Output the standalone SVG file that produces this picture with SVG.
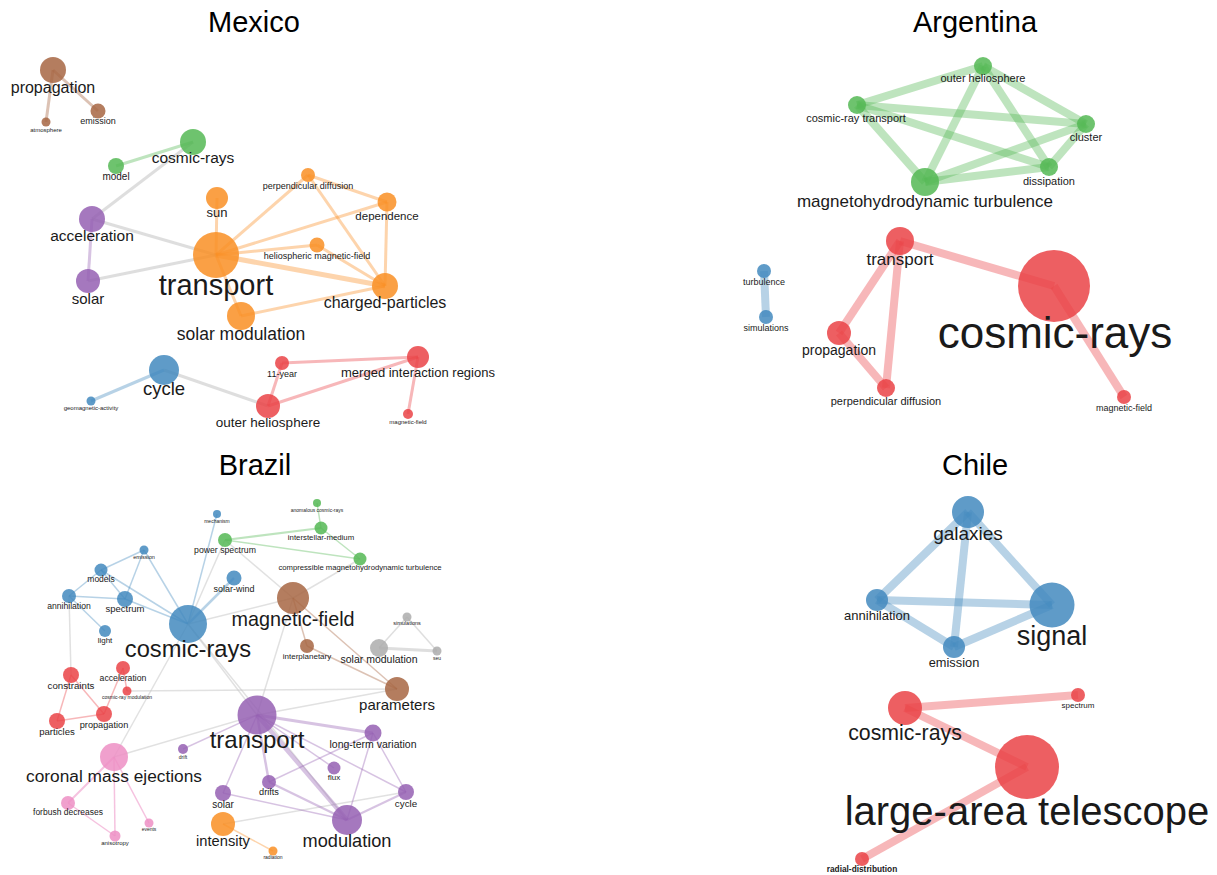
<svg xmlns="http://www.w3.org/2000/svg" width="1217" height="875" viewBox="0 0 1217 875">
<style>
text{font-family:"Liberation Sans",Arial,sans-serif;fill:#1a1a1a;text-anchor:middle}
.title{font-size:29px;fill:#000}
circle{fill-opacity:0.85}
.n-red{fill:#ea4346}.n-orange{fill:#f98f25}.n-blue{fill:#4389be}.n-green{fill:#55b955}
.n-purple{fill:#9560b3}.n-brown{fill:#a76643}.n-pink{fill:#ed8fc4}.n-gray{fill:#adadad}
line{stroke-linecap:butt}
.e-red{stroke:#ea4346;stroke-opacity:0.38}.e-orange{stroke:#f98f25;stroke-opacity:0.38}
.e-blue{stroke:#4389be;stroke-opacity:0.38}.e-green{stroke:#55b955;stroke-opacity:0.38}
.e-purple{stroke:#9560b3;stroke-opacity:0.38}.e-brown{stroke:#a76643;stroke-opacity:0.4}
.e-pink{stroke:#ed8fc4;stroke-opacity:0.55}.e-gray{stroke:#bdbdbd;stroke-opacity:0.5}
.e-lgray{stroke:#c8c8c8;stroke-opacity:0.55}
</style>

<g id="titles">
<text class="title" x="254" y="32">Mexico</text>
<text class="title" x="975" y="32">Argentina</text>
<text class="title" x="255" y="475">Brazil</text>
<text class="title" x="975" y="475">Chile</text>
</g>

<g id="connectors">
<!-- Mexico -->
<g stroke-width="3">
<line class="e-brown" x1="53" y1="70" x2="46" y2="122"/>
<line class="e-brown" x1="53" y1="70" x2="98" y2="111"/>
<line class="e-green" x1="116" y1="166" x2="193" y2="142"/>
<line class="e-gray" x1="193" y1="142" x2="92" y2="219"/>
<line class="e-purple" x1="92" y1="219" x2="88" y2="281"/>
<line class="e-gray" x1="92" y1="219" x2="216" y2="255"/>
<line class="e-gray" x1="88" y1="281" x2="216" y2="255"/>
<line class="e-orange" x1="216" y1="255" x2="217" y2="198"/>
<line class="e-orange" x1="216" y1="255" x2="308" y2="175"/>
<line class="e-orange" x1="216" y1="255" x2="387" y2="202"/>
<line class="e-orange" x1="216" y1="255" x2="317" y2="245"/>
<line class="e-orange" x1="216" y1="255" x2="385" y2="286" stroke-width="5"/>
<line class="e-orange" x1="216" y1="255" x2="241" y2="316"/>
<line class="e-orange" x1="241" y1="316" x2="385" y2="286"/>
<line class="e-orange" x1="308" y1="175" x2="387" y2="202"/>
<line class="e-orange" x1="308" y1="175" x2="385" y2="286"/>
<line class="e-orange" x1="387" y1="202" x2="385" y2="286"/>
<line class="e-orange" x1="317" y1="245" x2="385" y2="286"/>
<line class="e-blue" x1="164" y1="370" x2="91" y2="401"/>
<line class="e-gray" x1="164" y1="370" x2="268" y2="406"/>
<line class="e-red" x1="282" y1="363" x2="268" y2="406"/>
<line class="e-red" x1="282" y1="363" x2="418" y2="357"/>
<line class="e-red" x1="268" y1="406" x2="418" y2="357"/>
<line class="e-red" x1="418" y1="357" x2="408" y2="414"/>
</g>
<!-- Argentina -->
<g stroke-width="8">
<line class="e-green" x1="983" y1="66" x2="857" y2="105"/>
<line class="e-green" x1="983" y1="66" x2="1086" y2="124"/>
<line class="e-green" x1="983" y1="66" x2="1049" y2="167"/>
<line class="e-green" x1="983" y1="66" x2="925" y2="182"/>
<line class="e-green" x1="857" y1="105" x2="1086" y2="124"/>
<line class="e-green" x1="857" y1="105" x2="1049" y2="167"/>
<line class="e-green" x1="857" y1="105" x2="925" y2="182"/>
<line class="e-green" x1="1086" y1="124" x2="1049" y2="167"/>
<line class="e-green" x1="1086" y1="124" x2="925" y2="182"/>
<line class="e-green" x1="1049" y1="167" x2="925" y2="182"/>
<line class="e-blue" x1="764" y1="271" x2="766" y2="317"/>
<line class="e-red" x1="900" y1="241" x2="1054" y2="286"/>
<line class="e-red" x1="900" y1="241" x2="839" y2="333"/>
<line class="e-red" x1="900" y1="241" x2="886" y2="388"/>
<line class="e-red" x1="839" y1="333" x2="886" y2="388"/>
<line class="e-red" x1="1054" y1="286" x2="1124" y2="397"/>
</g>
<!-- Brazil -->
<g stroke-width="1.5">
<line class="e-blue" x1="217" y1="514" x2="188" y2="624"/>
<line class="e-blue" x1="144" y1="550" x2="101" y2="570"/>
<line class="e-blue" x1="144" y1="550" x2="125" y2="599"/>
<line class="e-blue" x1="144" y1="550" x2="188" y2="624"/>
<line class="e-blue" x1="101" y1="570" x2="69" y2="596"/>
<line class="e-blue" x1="101" y1="570" x2="125" y2="599"/>
<line class="e-blue" x1="101" y1="570" x2="188" y2="624"/>
<line class="e-blue" x1="69" y1="596" x2="125" y2="599"/>
<line class="e-blue" x1="69" y1="596" x2="105" y2="631"/>
<line class="e-blue" x1="125" y1="599" x2="188" y2="624"/>
<line class="e-blue" x1="234" y1="578" x2="188" y2="624" stroke-width="2.5"/>
<line class="e-green" x1="225" y1="540" x2="321" y2="528" stroke-width="2"/>
<line class="e-green" x1="225" y1="540" x2="360" y2="559"/>
<line class="e-green" x1="321" y1="528" x2="317" y2="503"/>
<line class="e-green" x1="321" y1="528" x2="360" y2="559"/>
<line class="e-lgray" x1="225" y1="540" x2="188" y2="624"/>
<line class="e-lgray" x1="225" y1="540" x2="293" y2="598"/>
<line class="e-lgray" x1="360" y1="559" x2="293" y2="598"/>
<line class="e-lgray" x1="188" y1="624" x2="293" y2="598"/>
<line class="e-lgray" x1="293" y1="598" x2="257" y2="715"/>
<line class="e-lgray" x1="69" y1="596" x2="71" y2="675"/>
<line class="e-lgray" x1="188" y1="624" x2="257" y2="715"/>
<line class="e-lgray" x1="188" y1="624" x2="347" y2="820"/>
<line class="e-lgray" x1="188" y1="624" x2="114" y2="757"/>
<line class="e-lgray" x1="114" y1="757" x2="257" y2="715"/>
<line class="e-lgray" x1="127" y1="691" x2="397" y2="689"/>
<line class="e-lgray" x1="257" y1="715" x2="397" y2="689"/>
<line class="e-lgray" x1="223" y1="824" x2="406" y2="792"/>
<line class="e-brown" x1="293" y1="598" x2="307" y2="646"/>
<line class="e-brown" x1="293" y1="598" x2="397" y2="689"/>
<line class="e-brown" x1="307" y1="646" x2="397" y2="689"/>
<line class="e-gray" x1="407" y1="617" x2="379" y2="648"/>
<line class="e-gray" x1="407" y1="617" x2="437" y2="651"/>
<line class="e-gray" x1="379" y1="648" x2="437" y2="651" stroke-width="3"/>
<line class="e-red" x1="71" y1="675" x2="57" y2="721"/>
<line class="e-red" x1="71" y1="675" x2="104" y2="714"/>
<line class="e-red" x1="57" y1="721" x2="104" y2="714"/>
<line class="e-red" x1="123" y1="668" x2="104" y2="714"/>
<line class="e-red" x1="123" y1="668" x2="127" y2="691"/>
<line class="e-pink" x1="114" y1="757" x2="68" y2="803" stroke-width="2"/>
<line class="e-pink" x1="114" y1="757" x2="115" y2="836"/>
<line class="e-pink" x1="114" y1="757" x2="149" y2="823"/>
<line class="e-pink" x1="68" y1="803" x2="115" y2="836"/>
<line class="e-purple" x1="257" y1="715" x2="183" y2="749"/>
<line class="e-purple" x1="257" y1="715" x2="223" y2="793"/>
<line class="e-purple" x1="257" y1="715" x2="269" y2="782" stroke-width="2.5"/>
<line class="e-purple" x1="257" y1="715" x2="334" y2="768"/>
<line class="e-purple" x1="257" y1="715" x2="373" y2="733" stroke-width="3"/>
<line class="e-purple" x1="257" y1="715" x2="347" y2="820" stroke-width="4.5"/>
<line class="e-purple" x1="257" y1="715" x2="406" y2="792"/>
<line class="e-purple" x1="373" y1="733" x2="269" y2="782"/>
<line class="e-purple" x1="373" y1="733" x2="347" y2="820"/>
<line class="e-purple" x1="373" y1="733" x2="406" y2="792"/>
<line class="e-purple" x1="269" y1="782" x2="347" y2="820" stroke-width="2.5"/>
<line class="e-purple" x1="223" y1="793" x2="347" y2="820"/>
<line class="e-purple" x1="406" y1="792" x2="347" y2="820" stroke-width="2"/>
<line class="e-orange" x1="223" y1="824" x2="273" y2="851"/>
</g>
<!-- Chile -->
<g stroke-width="8">
<line class="e-blue" x1="968" y1="512" x2="877" y2="600"/>
<line class="e-blue" x1="968" y1="512" x2="1052" y2="605"/>
<line class="e-blue" x1="968" y1="512" x2="954" y2="647"/>
<line class="e-blue" x1="877" y1="600" x2="1052" y2="605"/>
<line class="e-blue" x1="877" y1="600" x2="954" y2="647"/>
<line class="e-blue" x1="954" y1="647" x2="1052" y2="605"/>
<line class="e-red" x1="905" y1="708" x2="1078" y2="695"/>
<line class="e-red" x1="905" y1="708" x2="1027" y2="767"/>
<line class="e-red" x1="1027" y1="767" x2="862" y2="859"/>
</g>
</g>

<!-- Mexico nodes -->
<g id="m-propagation"><circle class="n-brown" cx="53" cy="70" r="13"/><text x="53" y="93" font-size="16">propagation</text></g>
<g id="m-atmosphere"><circle class="n-brown" cx="46" cy="122" r="4.5"/><text x="46" y="132" font-size="6">atmosphere</text></g>
<g id="m-emission"><circle class="n-brown" cx="98" cy="111" r="7.5"/><text x="98" y="124" font-size="9">emission</text></g>
<g id="m-model"><circle class="n-green" cx="116" cy="166" r="8"/><text x="116" y="180" font-size="10">model</text></g>
<g id="m-cosmic-rays"><circle class="n-green" cx="193" cy="142" r="13"/><text x="193" y="163" font-size="15.5">cosmic-rays</text></g>
<g id="m-acceleration"><circle class="n-purple" cx="92" cy="219" r="13"/><text x="92" y="241" font-size="15.5">acceleration</text></g>
<g id="m-solar"><circle class="n-purple" cx="88" cy="281" r="12"/><text x="88" y="304" font-size="15">solar</text></g>
<g id="m-sun"><circle class="n-orange" cx="217" cy="198" r="11"/><text x="217" y="217" font-size="13">sun</text></g>
<g id="m-transport"><circle class="n-orange" cx="216" cy="255" r="23"/><text x="216" y="295" font-size="29">transport</text></g>
<g id="m-solar-modulation"><circle class="n-orange" cx="241" cy="316" r="14"/><text x="241" y="340" font-size="17.5">solar modulation</text></g>
<g id="m-perpendicular-diffusion"><circle class="n-orange" cx="308" cy="175" r="7"/><text x="308" y="189" font-size="9">perpendicular diffusion</text></g>
<g id="m-dependence"><circle class="n-orange" cx="387" cy="202" r="9.5"/><text x="387" y="219.5" font-size="11.5">dependence</text></g>
<g id="m-heliospheric-magnetic-field"><circle class="n-orange" cx="317" cy="245" r="7.5"/><text x="317" y="259" font-size="9">heliospheric magnetic-field</text></g>
<g id="m-charged-particles"><circle class="n-orange" cx="385" cy="286" r="13"/><text x="385" y="308" font-size="16">charged-particles</text></g>
<g id="m-cycle"><circle class="n-blue" cx="164" cy="370" r="15"/><text x="164" y="395" font-size="18.5">cycle</text></g>
<g id="m-geomagnetic-activity"><circle class="n-blue" cx="91" cy="401" r="4.5"/><text x="91" y="410" font-size="6">geomagnetic-activity</text></g>
<g id="m-11-year"><circle class="n-red" cx="282" cy="363" r="7"/><text x="282" y="377" font-size="9">11-year</text></g>
<g id="m-outer-heliosphere"><circle class="n-red" cx="268" cy="406" r="12"/><text x="268" y="426.5" font-size="13.5">outer heliosphere</text></g>
<g id="m-merged-interaction-regions"><circle class="n-red" cx="418" cy="357" r="11"/><text x="418" y="376.5" font-size="13">merged interaction regions</text></g>
<g id="m-magnetic-field"><circle class="n-red" cx="408" cy="414" r="5"/><text x="408" y="424" font-size="6">magnetic-field</text></g>

<!-- Argentina nodes -->
<g id="a-outer-heliosphere"><circle class="n-green" cx="983" cy="66" r="9"/><text x="983" y="82" font-size="11">outer heliosphere</text></g>
<g id="a-cosmic-ray-transport"><circle class="n-green" cx="857" cy="105" r="9"/><text x="856" y="122" font-size="11">cosmic-ray transport</text></g>
<g id="a-cluster"><circle class="n-green" cx="1086" cy="124" r="9"/><text x="1086" y="141" font-size="11">cluster</text></g>
<g id="a-dissipation"><circle class="n-green" cx="1049" cy="167" r="9"/><text x="1049" y="185" font-size="11">dissipation</text></g>
<g id="a-magnetohydrodynamic-turbulence"><circle class="n-green" cx="925" cy="182" r="14"/><text x="925" y="207" font-size="17">magnetohydrodynamic turbulence</text></g>
<g id="a-turbulence"><circle class="n-blue" cx="764" cy="271" r="7"/><text x="764" y="285" font-size="9">turbulence</text></g>
<g id="a-simulations"><circle class="n-blue" cx="766" cy="317" r="7"/><text x="766" y="331" font-size="9">simulations</text></g>
<g id="a-transport"><circle class="n-red" cx="900" cy="241" r="14"/><text x="900" y="265" font-size="17">transport</text></g>
<g id="a-cosmic-rays"><circle class="n-red" cx="1054" cy="286" r="36"/><text x="1055" y="348" font-size="44">cosmic-rays</text></g>
<g id="a-propagation"><circle class="n-red" cx="839" cy="333" r="12"/><text x="839" y="355" font-size="14">propagation</text></g>
<g id="a-perpendicular-diffusion"><circle class="n-red" cx="886" cy="388" r="9"/><text x="886" y="405" font-size="11">perpendicular diffusion</text></g>
<g id="a-magnetic-field"><circle class="n-red" cx="1124" cy="397" r="7"/><text x="1124" y="411" font-size="9">magnetic-field</text></g>

<!-- Brazil nodes -->
<g id="b-mechanism"><circle class="n-blue" cx="217" cy="514" r="4"/><text x="217" y="522.5" font-size="5">mechanism</text></g>
<g id="b-anomalous-cosmic-rays"><circle class="n-green" cx="317" cy="503" r="4"/><text x="317" y="511.5" font-size="5">anomalous cosmic-rays</text></g>
<g id="b-power-spectrum"><circle class="n-green" cx="225" cy="540" r="7"/><text x="225" y="553" font-size="8.7">power spectrum</text></g>
<g id="b-interstellar-medium"><circle class="n-green" cx="321" cy="528" r="6.5"/><text x="321" y="540" font-size="7.8">interstellar-medium</text></g>
<g id="b-compressible-mhd-turbulence"><circle class="n-green" cx="360" cy="559" r="6.5"/><text x="360" y="570" font-size="7.7">compressible magnetohydrodynamic turbulence</text></g>
<g id="b-emission"><circle class="n-blue" cx="144" cy="550" r="4.5"/><text x="144" y="558.5" font-size="5.5">emission</text></g>
<g id="b-models"><circle class="n-blue" cx="101" cy="570" r="6.5"/><text x="101" y="582" font-size="8.5">models</text></g>
<g id="b-annihilation"><circle class="n-blue" cx="69" cy="596" r="7"/><text x="69" y="609" font-size="8.6">annihilation</text></g>
<g id="b-spectrum"><circle class="n-blue" cx="125" cy="599" r="8"/><text x="125" y="612" font-size="9.5">spectrum</text></g>
<g id="b-light"><circle class="n-blue" cx="105" cy="631" r="6"/><text x="105" y="643" font-size="8">light</text></g>
<g id="b-solar-wind"><circle class="n-blue" cx="234" cy="578" r="7.5"/><text x="234" y="592" font-size="9">solar-wind</text></g>
<g id="b-cosmic-rays"><circle class="n-blue" cx="188" cy="624" r="19"/><text x="188" y="657" font-size="23.7">cosmic-rays</text></g>
<g id="b-magnetic-field"><circle class="n-brown" cx="293" cy="598" r="16"/><text x="293" y="625.5" font-size="19.8">magnetic-field</text></g>
<g id="b-interplanetary"><circle class="n-brown" cx="307" cy="646" r="7"/><text x="307" y="658.5" font-size="8">interplanetary</text></g>
<g id="b-simulations"><circle class="n-gray" cx="407" cy="617" r="4.5"/><text x="407" y="625" font-size="5.5">simulations</text></g>
<g id="b-solar-modulation"><circle class="n-gray" cx="379" cy="648" r="9"/><text x="379" y="663" font-size="10.5">solar modulation</text></g>
<g id="b-seu"><circle class="n-gray" cx="437" cy="651" r="4.5"/><text x="437" y="659.5" font-size="5">seu</text></g>
<g id="b-parameters"><circle class="n-brown" cx="397" cy="689" r="12"/><text x="397" y="710" font-size="15">parameters</text></g>
<g id="b-constraints"><circle class="n-red" cx="71" cy="675" r="8"/><text x="71" y="688.5" font-size="9.7">constraints</text></g>
<g id="b-acceleration"><circle class="n-red" cx="123" cy="668" r="7"/><text x="123" y="681" font-size="8.7">acceleration</text></g>
<g id="b-cosmic-ray-modulation"><circle class="n-red" cx="127" cy="691" r="4.5"/><text x="127" y="698.5" font-size="5">cosmic-ray modulation</text></g>
<g id="b-propagation"><circle class="n-red" cx="104" cy="714" r="8"/><text x="104" y="728" font-size="9.2">propagation</text></g>
<g id="b-particles"><circle class="n-red" cx="57" cy="721" r="8"/><text x="57" y="735" font-size="9.6">particles</text></g>
<g id="b-transport"><circle class="n-purple" cx="257" cy="715" r="19.5"/><text x="257" y="748" font-size="24">transport</text></g>
<g id="b-coronal-mass-ejections"><circle class="n-pink" cx="114" cy="757" r="14"/><text x="114" y="782" font-size="17.3">coronal mass ejections</text></g>
<g id="b-drift"><circle class="n-purple" cx="183" cy="749" r="5"/><text x="183" y="758.5" font-size="5">drift</text></g>
<g id="b-long-term-variation"><circle class="n-purple" cx="373" cy="733" r="8.5"/><text x="373" y="747.5" font-size="10.5">long-term variation</text></g>
<g id="b-flux"><circle class="n-purple" cx="334" cy="768" r="6.5"/><text x="334" y="780" font-size="8">flux</text></g>
<g id="b-drifts"><circle class="n-purple" cx="269" cy="782" r="7"/><text x="269" y="795" font-size="9.2">drifts</text></g>
<g id="b-solar"><circle class="n-purple" cx="223" cy="793" r="8"/><text x="223" y="807.5" font-size="10">solar</text></g>
<g id="b-cycle"><circle class="n-purple" cx="406" cy="792" r="8"/><text x="406" y="806.5" font-size="9.8">cycle</text></g>
<g id="b-modulation"><circle class="n-purple" cx="347" cy="820" r="15"/><text x="347" y="847" font-size="18.2">modulation</text></g>
<g id="b-intensity"><circle class="n-orange" cx="223" cy="824" r="12"/><text x="223" y="846" font-size="14.7">intensity</text></g>
<g id="b-radiation"><circle class="n-orange" cx="273" cy="851" r="4.5"/><text x="273" y="858.5" font-size="5">radiation</text></g>
<g id="b-forbush-decreases"><circle class="n-pink" cx="68" cy="803" r="7"/><text x="68" y="815" font-size="8.5">forbush decreases</text></g>
<g id="b-anisotropy"><circle class="n-pink" cx="115" cy="836" r="5.5"/><text x="115" y="845" font-size="6">anisotropy</text></g>
<g id="b-events"><circle class="n-pink" cx="149" cy="823" r="4.5"/><text x="149" y="830.5" font-size="5">events</text></g>

<!-- Chile nodes -->
<g id="c-galaxies"><circle class="n-blue" cx="968" cy="512" r="16"/><text x="968" y="540" font-size="19">galaxies</text></g>
<g id="c-annihilation"><circle class="n-blue" cx="877" cy="600" r="11"/><text x="877" y="620" font-size="13">annihilation</text></g>
<g id="c-signal"><circle class="n-blue" cx="1052" cy="605" r="22.5"/><text x="1052" y="645" font-size="27">signal</text></g>
<g id="c-emission"><circle class="n-blue" cx="954" cy="647" r="11"/><text x="954" y="666.5" font-size="12.8">emission</text></g>
<g id="c-cosmic-rays"><circle class="n-red" cx="905" cy="708" r="17"/><text x="905" y="740" font-size="21.3">cosmic-rays</text></g>
<g id="c-spectrum"><circle class="n-red" cx="1078" cy="695" r="7"/><text x="1078" y="708" font-size="8">spectrum</text></g>
<g id="c-large-area-telescope"><circle class="n-red" cx="1027" cy="767" r="32"/><text x="1027" y="825" font-size="40">large-area telescope</text></g>
<g id="c-radial-distribution"><circle class="n-red" cx="862" cy="859" r="7"/><text x="862" y="872" font-size="8.3" font-weight="bold">radial-distribution</text></g>
</svg>
